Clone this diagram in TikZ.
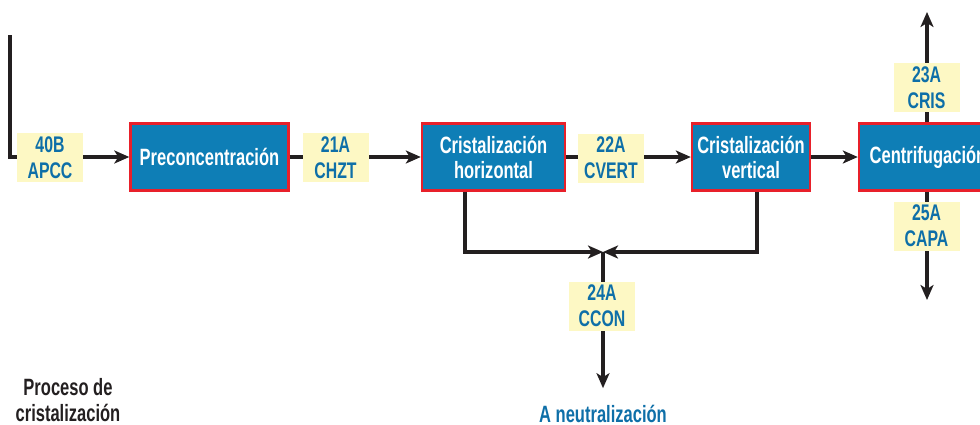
\documentclass[tikz,border=0pt]{standalone}
\usepackage{fontspec}
\setmainfont{Liberation Sans}[FakeStretch=0.7]
\usetikzlibrary{arrows.meta}

\definecolor{procblue}{HTML}{0E7EB6}
\definecolor{procred}{HTML}{E8202A}
\definecolor{tagyellow}{HTML}{FDF8C4}
\definecolor{tagblue}{HTML}{0E6FA8}
\definecolor{flowblack}{HTML}{231F20}

\tikzset{
  proc/.style={draw=procred, line width=1.2pt, fill=procblue, text=white,
    font=\bfseries\fontsize{11.8}{12.5}\selectfont, align=center,
    inner sep=0pt, minimum height=33.5pt},
  tag/.style={fill=tagyellow, text=tagblue,
    font=\bfseries\fontsize{11.3}{12.8}\selectfont, align=center,
    inner sep=0pt, minimum width=33pt, minimum height=24.5pt},
  flow/.style={line width=2pt, draw=flowblack,
    -{Stealth[length=7.5pt,width=6.5pt,inset=2pt]}},
  pipe/.style={line width=2pt, draw=flowblack}
}

\begin{document}
\begin{tikzpicture}[x=0.5pt,y=-0.5pt]
  \useasboundingbox (0,0) rectangle (980,424);

  % process boxes
  \node[proc, minimum width=79pt] (precon) at (209.5,157) {Preconcentración};
  \node[proc, minimum width=71.5pt] (horiz) at (493.5,157) {Cristalización\\horizontal};
  \node[proc, minimum width=59pt] (vert) at (751,157) {Cristalización\\vertical};
  \node[proc, minimum width=69pt] (centri) at (928,157) {Centrifugación};

  \coordinate (feed) at (10,35);
  \coordinate (merge) at (603,252);
  \coordinate (crisout) at (927,12);
  \coordinate (capaout) at (927,300);

  % flows
  \draw[flow] (feed) |- (precon.west);
  \draw[flow] (precon) -- (horiz);
  \draw[flow] (horiz) -- (vert);
  \draw[flow] (vert) -- (centri);
  \draw[flow] ([xshift=-0.5pt]centri.north) -- (crisout);
  \draw[flow] ([xshift=-0.5pt]centri.south) -- (capaout);
  \draw[flow] ([xshift=-14.25pt]horiz.south) |- (merge);
  \draw[flow] ([xshift=3pt]vert.south) |- (merge);

  \node[text=tagblue, font=\bfseries\fontsize{11.8}{12.5}\selectfont] (neutr) at (603,414) {A neutralización};
  \draw[flow] (merge) -- ([yshift=5pt]neutr.north);

  % stream tags
  \node[tag] (t40) at (50,157.5) {40B\\APCC};
  \node[tag] (t21) at (335.5,157.5) {21A\\CHZT};
  \node[tag] (t22) at (611,158) {22A\\CVERT};
  \node[tag] (t23) at (926.5,87.5) {23A\\CRIS};
  \node[tag] (t25) at (926.5,226) {25A\\CAPA};
  \node[tag] (t24) at (602,306) {24A\\CCON};

  \node[align=center, text=flowblack, font=\bfseries\fontsize{11.8}{12.8}\selectfont] (title) at (68,400) {Proceso de\\cristalización};
\end{tikzpicture}
\end{document}
